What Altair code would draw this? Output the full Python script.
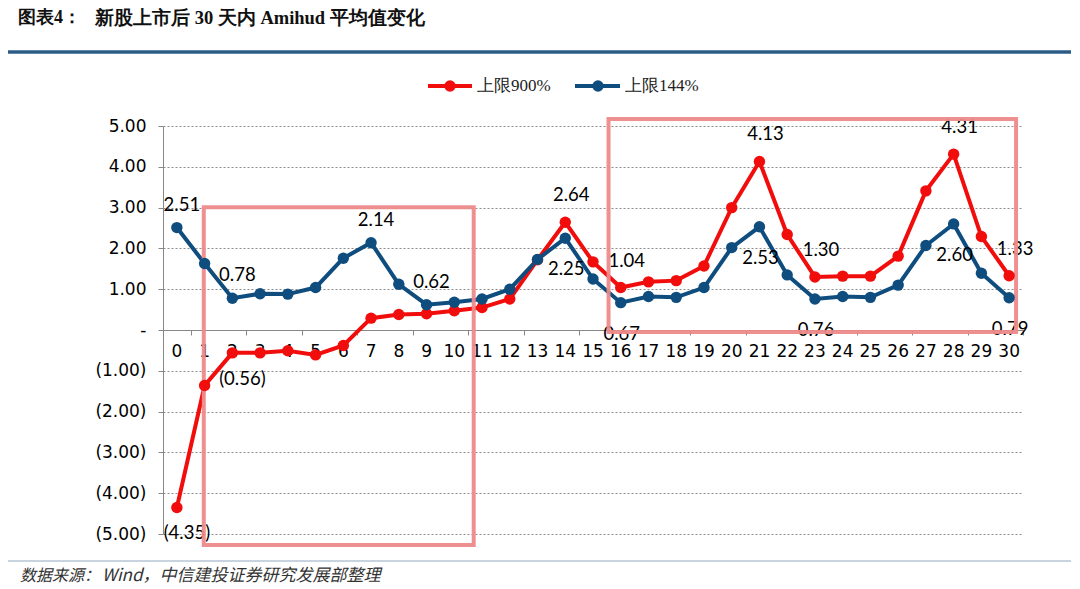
import altair as alt
import pandas as pd

# ---------------- data ----------------
days = list(range(31))
series_names = ["上限900%", "上限144%"]
series_colors = ["#F20D0D", "#0E4D7E"]

red_vals = [-4.35, -1.36, -0.56, -0.56, -0.51, -0.61, -0.38, 0.29, 0.38, 0.40, 0.47,
            0.55, 0.76, 1.72, 2.64, 1.67, 1.04, 1.18, 1.21, 1.57, 3.00,
            4.13, 2.34, 1.30, 1.32, 1.32, 1.81, 3.41, 4.31, 2.29, 1.33]
blue_vals = [2.51, 1.63, 0.78, 0.89, 0.88, 1.04, 1.76, 2.14, 1.12, 0.62, 0.68,
             0.76, 1.00, 1.73, 2.25, 1.25, 0.67, 0.82, 0.80, 1.04, 2.02,
             2.53, 1.35, 0.76, 0.82, 0.80, 1.10, 2.07, 2.60, 1.39, 0.79]

red_label_days = [0, 2, 14, 16, 21, 23, 28, 30]
red_label_side = ["below", "below", "above", "above", "above", "above", "above", "above"]
blue_label_days = [0, 2, 7, 9, 14, 16, 21, 23, 28, 30]
blue_label_side = ["above", "above", "above", "above", "below", "below", "below", "below", "below", "below"]

# highlight boxes (data coordinates)
box_x0 = [0.97, 15.56]
box_x1 = [10.70, 30.25]
box_y0 = [-5.27, -0.05]
box_y1 = [3.01, 5.17]

y_ticks = [-5, -4, -3, -2, -1, 0, 1, 2, 3, 4, 5]

title_left = "图表4："
title_main = "新股上市后 30 天内 Amihud 平均值变化"
source_left = "数据来源："
source_main = "Wind，中信建投证券研究发展部整理"


def fmt(v):
    return "(%.2f)" % (-v) if v < 0 else "%.2f" % v


# ---------------- tables ----------------
rows = []
for d, v in zip(days, red_vals):
    rows.append({"day": d, "value": v, "series": series_names[0]})
for d, v in zip(days, blue_vals):
    rows.append({"day": d, "value": v, "series": series_names[1]})
df = pd.DataFrame(rows)

lab_rows = []
for d, s in zip(red_label_days, red_label_side):
    lab_rows.append({"day": d, "value": red_vals[d], "series": series_names[0],
                     "side": s, "label": fmt(red_vals[d])})
for d, s in zip(blue_label_days, blue_label_side):
    lab_rows.append({"day": d, "value": blue_vals[d], "series": series_names[1],
                     "side": s, "label": fmt(blue_vals[d])})
labels = pd.DataFrame(lab_rows)

boxes = pd.DataFrame({"x0": box_x0, "x1": box_x1, "y0": box_y0, "y1": box_y1})
xlabels = pd.DataFrame({"day": days, "txt": [str(d) for d in days]})

# ---------------- scales / axes ----------------
W, H = 860, 408
step = W / 31.0

x_enc = alt.X(
    "day:Q",
    scale=alt.Scale(domain=[-0.5, 30.5], nice=False, zero=False),
    axis=alt.Axis(
        values=days, title=None, offset=-H / 2, tickOffset=step / 2,
        tickSize=5, tickColor="#888888", domainColor="#888888",
        labels=False, grid=False,
    ),
)

y_label_expr = (
    "datum.value == 0 ? '-\u00a0\u00a0' : (datum.value < 0 ? '(' + format(-datum.value, '.2f') + ')'"
    " : format(datum.value, '.2f') + '\u00a0')"
)
y_enc = alt.Y(
    "value:Q",
    scale=alt.Scale(domain=[-5, 5], nice=False, zero=False),
    axis=alt.Axis(
        values=y_ticks, title=None, labelExpr=y_label_expr, grid=True,
        gridColor="#8C8C8C", gridDash=[2, 2], gridWidth=1,
        domainColor="#888888", tickColor="#888888", tickSize=5,
        labelFont="DejaVu Sans", labelFontSize=17, labelColor="#000000",
        labelPadding=12,
    ),
)

color_enc = alt.Color(
    "series:N",
    scale=alt.Scale(domain=series_names, range=series_colors),
    legend=None,
)

# category labels along the zero line
xlab_layer = alt.Chart(xlabels).mark_text(
    font="DejaVu Sans", fontSize=17, color="#000000", align="center", baseline="middle", dy=22
).encode(x=x_enc, y=alt.datum(0), text="txt:N")

base = alt.Chart(df)

lines = base.mark_line(strokeWidth=4).encode(x=x_enc, y=y_enc, color=color_enc, detail="series:N")
points = base.mark_point(filled=True, size=130, opacity=1).encode(x=x_enc, y=y_enc, color=color_enc)

lab_base = alt.Chart(labels)
lab_font = dict(font="Lato", fontSize=18.5, color="#000000", align="center", baseline="middle")
red_above = lab_base.mark_text(dy=-27, dx=6, **lab_font).encode(x=x_enc, y=y_enc, text="label:N").transform_filter(
    (alt.datum.series == series_names[0]) & (alt.datum.side == "above"))
red_below = lab_base.mark_text(dy=26, dx=10, **lab_font).encode(x=x_enc, y=y_enc, text="label:N").transform_filter(
    (alt.datum.series == series_names[0]) & (alt.datum.side == "below"))
blue_above = lab_base.mark_text(dy=-23, dx=5, **lab_font).encode(x=x_enc, y=y_enc, text="label:N").transform_filter(
    (alt.datum.series == series_names[1]) & (alt.datum.side == "above"))
blue_below = lab_base.mark_text(dy=31, dx=1, **lab_font).encode(x=x_enc, y=y_enc, text="label:N").transform_filter(
    (alt.datum.series == series_names[1]) & (alt.datum.side == "below"))

box_layer = alt.Chart(boxes).mark_rect(
    fill=None, filled=False, stroke="#EE8A8A", strokeWidth=4, opacity=0.95, clip=False
).encode(
    x=alt.X("x0:Q"), x2="x1:Q", y=alt.Y("y0:Q"), y2="y1:Q"
)

one = alt.Data(values=[{}])
decor = []

# title
decor.append(alt.Chart(one).mark_text(font="Liberation Serif", fontWeight="bold", fontSize=18,
                                       align="left", baseline="middle", color="#111111")
             .encode(x=alt.value(-145), y=alt.value(-108), text=alt.value(title_left)))
decor.append(alt.Chart(one).mark_text(font="Liberation Serif", fontWeight="bold", fontSize=18.5,
                                       align="left", baseline="middle", color="#111111")
             .encode(x=alt.value(-68), y=alt.value(-108), text=alt.value(title_main)))
decor.append(alt.Chart(one).mark_rule(color="#2B5C87", strokeWidth=3.5)
             .encode(x=alt.value(-155), x2=alt.value(908), y=alt.value(-74)))

# legend
legend_items = [(265, 309, 287, 314), (412, 457, 435, 462)]
for (lx0, lx1, lc, lt), name, col in zip(legend_items, series_names, series_colors):
    decor.append(alt.Chart(one).mark_rule(color=col, strokeWidth=4)
                 .encode(x=alt.value(lx0), x2=alt.value(lx1), y=alt.value(-40)))
    decor.append(alt.Chart(one).mark_point(filled=True, size=130, opacity=1, color=col)
                 .encode(x=alt.value(lc), y=alt.value(-40)))
    decor.append(alt.Chart(one).mark_text(font="Liberation Serif", fontSize=17, align="left",
                                           baseline="middle", color="#222222")
                 .encode(x=alt.value(lt), y=alt.value(-40), text=alt.value(name)))

# footer
decor.append(alt.Chart(one).mark_rule(color="#B4C6D4", strokeWidth=1.5)
             .encode(x=alt.value(-155), x2=alt.value(908), y=alt.value(435)))
decor.append(alt.Chart(one).mark_text(font="Noto Sans CJK SC", fontStyle="italic", fontSize=16,
                                       align="left", baseline="middle", color="#333333")
             .encode(x=alt.value(-143), y=alt.value(450), text=alt.value(source_left)))
decor.append(alt.Chart(one).mark_text(font="Noto Sans CJK SC", fontStyle="italic", fontSize=17,
                                       align="left", baseline="middle", color="#333333")
             .encode(x=alt.value(-61), y=alt.value(450), text=alt.value(source_main)))

chart = alt.layer(
    xlab_layer, lines, red_above, red_below, blue_above, blue_below, box_layer, points, *decor
).properties(
    width=W, height=H,
    autosize=alt.AutoSizeParams(type="none"),
    padding={"left": 155, "top": 118, "right": 48, "bottom": 56},
    background="white",
).configure_view(stroke=None)

chart.save("out.html", embed_options={"renderer": "svg", "actions": False})
